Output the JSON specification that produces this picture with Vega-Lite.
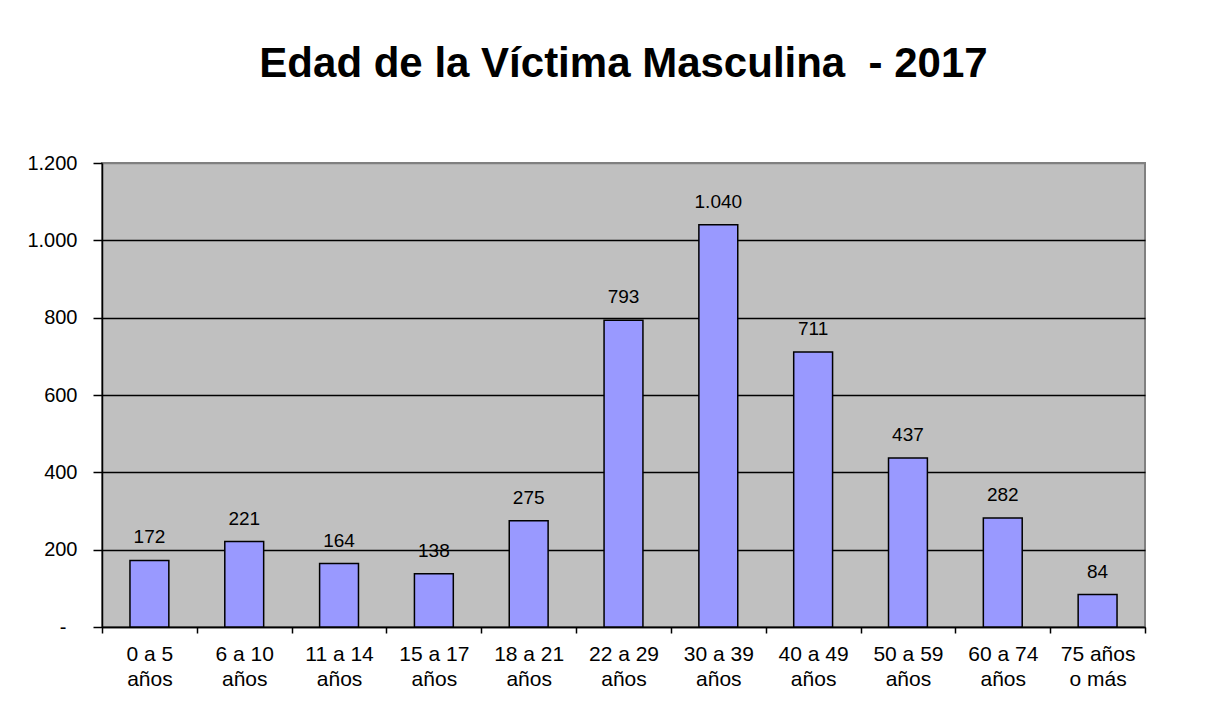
{
  "$schema": "https://vega.github.io/schema/vega-lite/v6.json",
  "width": 1043,
  "height": 464,
  "autosize": {"type": "none"},
  "padding": {"left": 102, "top": 163, "right": 64, "bottom": 82},
  "background": "white",
  "title": {
    "text": "Edad de la Víctima Masculina\u00a0 - 2017",
    "font": "Liberation Sans",
    "fontSize": 42,
    "fontWeight": "bold",
    "color": "black",
    "anchor": "middle",
    "baseline": "alphabetic",
    "offset": 34
  },
  "data": {
    "values": [
      {"grupo": "0 a 5 años", "victimas": 172},
      {"grupo": "6 a 10 años", "victimas": 221},
      {"grupo": "11 a 14 años", "victimas": 164},
      {"grupo": "15 a 17 años", "victimas": 138},
      {"grupo": "18 a 21 años", "victimas": 275},
      {"grupo": "22 a 29 años", "victimas": 793},
      {"grupo": "30 a 39 años", "victimas": 1040},
      {"grupo": "40 a 49 años", "victimas": 711},
      {"grupo": "50 a 59 años", "victimas": 437},
      {"grupo": "60 a 74 años", "victimas": 282},
      {"grupo": "75 años o más", "victimas": 84}
    ]
  },
  "encoding": {
    "x": {
      "field": "grupo",
      "type": "nominal",
      "sort": null,
      "scale": {"paddingInner": 0, "paddingOuter": 0},
      "axis": {
        "title": null,
        "labelAngle": 0,
        "tickBand": "extent",
        "labelExpr": "!isString(datum.value) ? '' : (datum.value == '75 años o más' ? ['75 años', 'o más'] : [replace(datum.value, ' años', ''), 'años'])",
        "labelFont": "Liberation Sans",
        "labelFontSize": 21,
        "labelLineHeight": 25,
        "labelColor": "black",
        "labelPadding": 10,
        "tickSize": 6,
        "tickColor": "black",
        "tickWidth": 1.5,
        "domainColor": "black",
        "domainWidth": 1.5
      }
    },
    "y": {
      "field": "victimas",
      "type": "quantitative",
      "scale": {"domain": [0, 1200], "nice": false},
      "axis": {
        "title": null,
        "values": [0, 200, 400, 600, 800, 1000, 1200],
        "format": ",d",
        "labelExpr": "datum.value == 0 ? '-' : datum.label",
        "labelFont": "Liberation Sans",
        "labelFontSize": 20,
        "labelColor": "black",
        "labelPadding": {"condition": {"test": "datum.value == 0", "value": 27}, "value": 16},
        "tickSize": 9,
        "tickColor": "black",
        "tickWidth": 1.5,
        "domainColor": "black",
        "domainWidth": 1.5,
        "grid": true,
        "gridColor": {"condition": {"test": "datum.value == 1200", "value": "#808080"}, "value": "black"},
        "gridWidth": 1.5
      }
    }
  },
  "layer": [
    {
      "mark": {"type": "bar", "width": {"band": 0.41}, "fill": "#9999FF", "stroke": "black", "strokeWidth": 1.5}
    },
    {
      "mark": {"type": "text", "baseline": "alphabetic", "dy": -17, "font": "Liberation Sans", "fontSize": 19, "fill": "black"},
      "encoding": {"text": {"field": "victimas", "type": "quantitative", "format": ",d"}}
    }
  ],
  "config": {
    "view": {"fill": "#C0C0C0", "stroke": "#808080", "strokeWidth": 2},
    "locale": {"number": {"decimal": ",", "thousands": ".", "grouping": [3], "currency": ["$", ""]}}
  }
}
